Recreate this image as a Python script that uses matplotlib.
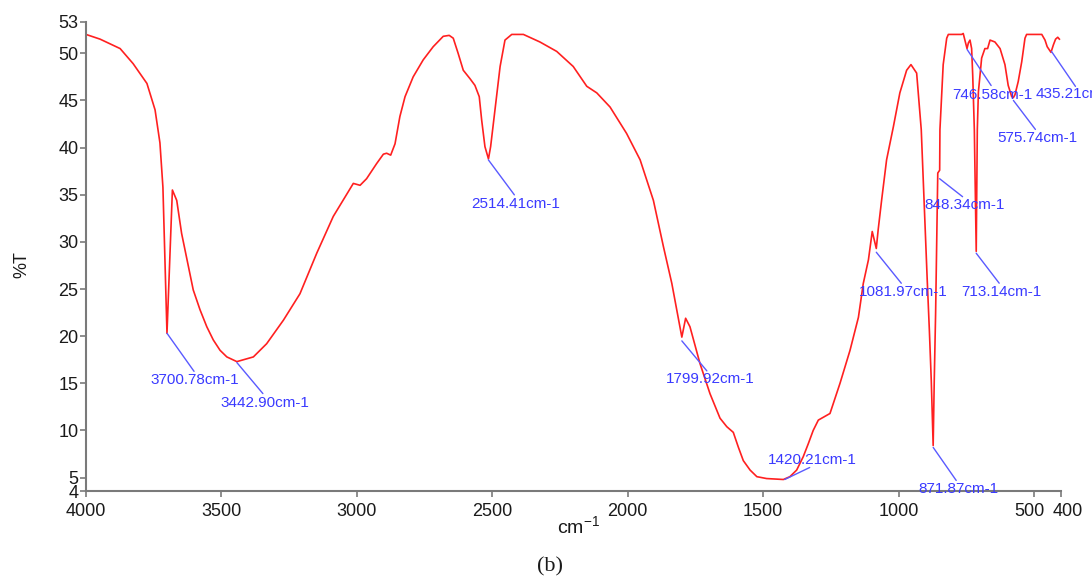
import matplotlib
matplotlib.use('Agg')
from matplotlib import pyplot as plt
from matplotlib.transforms import ScaledTranslation

# FTIR spectrum, values
wavenumber = [4000, 3948, 3874, 3826, 3775, 3745, 3727, 3716, 3701, 3681, 3665, 3647, 3634,
              3622, 3604, 3579, 3554, 3530, 3505, 3480, 3443, 3382, 3333, 3271, 3210, 3148,
              3087, 3013, 2988, 2964, 2927, 2902, 2890, 2875, 2859, 2841, 2822, 2792, 2755,
              2718, 2681, 2659, 2644, 2626, 2607, 2582, 2564, 2548, 2539, 2527, 2514, 2506,
              2490, 2471, 2453, 2428, 2385, 2324, 2262, 2201, 2151, 2114, 2065, 2004, 1954,
              1930, 1905, 1887, 1868, 1837, 1819, 1800, 1786, 1770, 1733, 1696, 1659, 1634,
              1610, 1591, 1573, 1548, 1523, 1487, 1425, 1401, 1376, 1352, 1333, 1315, 1296,
              1253, 1216, 1179, 1148, 1130, 1111, 1097, 1082, 1075, 1062, 1044, 1019, 995,
              970, 954, 933, 916, 904, 894, 886, 879, 872, 868, 863, 858, 855, 848, 847,
              835, 822, 816, 790, 767, 761, 747, 742, 736, 730, 726, 720, 713, 709, 705,
              693, 681, 671, 662, 644, 625, 607, 595, 582, 576, 570, 558, 545, 533, 527,
              471, 459, 451, 437, 428, 420, 412, 406]
transmittance = [52.0, 51.5, 50.5, 48.9, 46.8, 44.0, 40.5, 35.8, 20.3, 35.5, 34.4, 30.9, 29.1,
                 27.4, 24.9, 22.8, 21.0, 19.6, 18.5, 17.8, 17.3, 17.8, 19.2, 21.7, 24.5, 28.8,
                 32.7, 36.2, 36.0, 36.7, 38.3, 39.3, 39.4, 39.2, 40.4, 43.3, 45.4, 47.5, 49.3,
                 50.7, 51.8, 51.9, 51.6, 50.0, 48.2, 47.3, 46.6, 45.4, 42.9, 40.1, 38.8, 40.1,
                 44.0, 48.6, 51.4, 52.0, 52.0, 51.2, 50.2, 48.6, 46.5, 45.8, 44.3, 41.5, 38.7,
                 36.6, 34.4, 32.0, 29.5, 25.6, 22.8, 19.9, 21.9, 21.0, 17.1, 13.9, 11.3, 10.4,
                 9.8, 8.2, 6.8, 5.8, 5.1, 4.9, 4.8, 5.1, 5.8, 7.2, 8.6, 10.0, 11.1,
                 11.8, 15.0, 18.5, 22.0, 25.6, 28.1, 31.1, 29.3, 31.3, 34.5, 38.7, 42.2, 45.8,
                 48.2, 48.8, 47.9, 41.9, 33.1, 26.0, 20.6, 15.3, 8.4, 15.3, 22.4, 31.3, 37.3, 37.6, 41.9,
                 48.8, 51.6, 52.0, 52.0, 52.0, 52.1, 50.5, 51.1, 51.4, 50.5, 47.7, 41.9, 29.0, 41.9, 45.9,
                 49.5, 50.5, 50.5, 51.4, 51.2, 50.5, 48.8, 46.6, 45.4, 45.3, 45.6, 47.0, 49.1, 51.6, 52.0,
                 52.0, 51.4, 50.7, 50.1, 50.9, 51.5, 51.7, 51.5]

# peak labels: wavenumber, %T where the leader line starts
peak_labels = ['3700.78cm-1', '3442.90cm-1', '2514.41cm-1', '1799.92cm-1', '1420.21cm-1',
               '1081.97cm-1', '713.14cm-1', '871.87cm-1', '848.34cm-1', '746.58cm-1',
               '435.21cm-1', '575.74cm-1']
peak_wn = [3700.78, 3442.90, 2514.41, 1799.92, 1420.21, 1081.97, 713.14, 871.87, 848.34,
           746.58, 435.21, 575.74]
peak_t = [20.3, 17.2, 38.7, 19.5, 4.8, 28.9, 28.8, 8.2, 36.7, 50.4, 50.2, 45.0]
# leader end and text centre offsets in pixels
line_off = [(27, -38), (26, -31), (26, -35), (25, -30), (25, 12), (25, -31),
            (23, -30), (23, -33), (23, -18), (24, -36), (24, -35), (22, -29)]
text_off = [(28, -47), (28, -40), (27, -44), (28, -38), (28, 19), (27, -40),
            (25, -39), (25, -42), (25, -26), (25, -45), (24, -43), (24, -38)]

x_ticks = [4000, 3500, 3000, 2500, 2000, 1500, 1000, 500, 400]
y_lo, y_hi = 3.58, 53.35
y_ticks = [y_lo, 5, 10, 15, 20, 25, 30, 35, 40, 45, 50, y_hi]
y_ticklabels = ['4', '5', '10', '15', '20', '25', '30', '35', '40', '45', '50', '53']

plt.rcParams['font.family'] = ['Liberation Sans', 'DejaVu Sans']

fig = plt.figure(figsize=(10.92, 5.79), dpi=100)
ax = fig.add_axes([86 / 1092, 88 / 579, 975 / 1092, 469.3 / 579])

ax.plot(wavenumber, transmittance, color='#ff2020', lw=1.2)

blue_text = '#3a3aff'
blue_line = '#5a5aff'
for lbl, wn, t, lo, to in zip(peak_labels, peak_wn, peak_t, line_off, text_off):
    ax.annotate('', xy=(wn, t), xytext=lo, textcoords='offset pixels',
                arrowprops=dict(arrowstyle='-', color=blue_line, lw=1.0,
                                shrinkA=0, shrinkB=0))
    ax.annotate(lbl, xy=(wn, t), xytext=to, textcoords='offset pixels',
                ha='center', va='center', color=blue_text, fontsize=11,
                annotation_clip=False)

ax.set_xlim(4000, 400)
ax.set_ylim(y_lo, y_hi)
ax.set_xticks(x_ticks)
ax.set_yticks(y_ticks)
ax.set_yticklabels(y_ticklabels)

for side in ['top', 'right']:
    ax.spines[side].set_visible(False)
for side in ['left', 'bottom']:
    ax.spines[side].set_color('#7a7a7a')
    ax.spines[side].set_linewidth(1.5)

ax.tick_params(axis='both', direction='out', length=4, width=1.2, color='#7a7a7a',
               labelsize=13, labelcolor='#1a1a1a')
ax.tick_params(axis='x', pad=4.5)
ax.tick_params(axis='y', pad=1.5)

# the last two x labels sit apart a little, as in the original software
nudge = {500: -4, 400: 7}
for tick_val, lab in zip(x_ticks, ax.get_xticklabels()):
    if tick_val in nudge:
        lab.set_transform(lab.get_transform() +
                          ScaledTranslation(nudge[tick_val] / 100, 0, fig.dpi_scale_trans))

fig.text(22 / 1092, 1 - 265 / 579, '%T', rotation=90, ha='center', va='center',
         fontsize=13, color='#1a1a1a')
fig.text(579 / 1092, 1 - 527 / 579, r'cm$^{\mathregular{-1}}$', ha='center', va='center',
         fontsize=14, color='#1a1a1a')
fig.text(550 / 1092, 1 - 567 / 579, '(b)', ha='center', va='center',
         fontsize=16, color='#1a1a1a', family='Liberation Serif')

fig.savefig('out.png', dpi=100)
